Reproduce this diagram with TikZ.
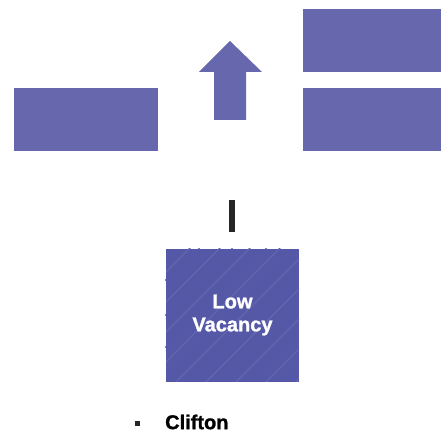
\documentclass[tikz,border=0pt]{standalone}
\usepackage{fontspec}
\setmainfont{Liberation Sans}[BoldFeatures={FakeBold=1.2}]
\usetikzlibrary{patterns}
\definecolor{boxblue}{HTML}{6667AC}
\definecolor{sqblue}{HTML}{5558A6}
\definecolor{stripe}{HTML}{6367AF}
\tikzset{
  blk/.style={fill=boxblue, draw=none, minimum height=63pt, inner sep=0pt},
  lbl/.style={text=white, font=\bfseries\fontsize{20}{25}\selectfont, align=center},
}
\begin{document}
\begin{tikzpicture}[x=1pt,y=1pt]
\useasboundingbox (0,0) rectangle (441,435);
% rectangles
\node[blk, minimum width=144pt, anchor=north west] (left) at (14,347) {};
\node[blk, minimum width=138pt, anchor=north west] (rtop) at (303,426) {};
\node[blk, minimum width=138pt, anchor=north west] (rbot) at (303,347) {};
% arrow
\fill[boxblue] (230,394) -- (262,363) -- (246,363) -- (246,315) -- (214,315) -- (214,363) -- (199,363) -- cycle;
\node[inner sep=0pt, minimum size=0pt] (arrow) at (230,350) {};
% bar
\fill[black!85] (229,235) rectangle (235,203);
\node[inner sep=0pt] (bar) at (232,218) {};
% square
\fill[sqblue] (166,186) rectangle (299,53);
\begin{scope}
\clip (166,186) rectangle (299,53);
\foreach \k in {-140,-110,...,150}
  \draw[stripe, line width=1.2pt] (166+\k,53) -- ++(140,140);
\end{scope}
\foreach \x in {199,232,266} \fill[sqblue] (\x,186) circle (1.1pt);
\foreach \y in {155,120,88} \fill[sqblue] (166,\y) circle (1.1pt);
\node[lbl] (lv) at (232.5,120) {Low\\[-2pt]Vacancy};
% bullet
\fill[black!85] (135,14) rectangle (140,9);
\node[anchor=west, inner sep=0pt, font=\bfseries\fontsize{20}{24}\selectfont] (clifton) at (165,13) {Clifton};
\end{tikzpicture}
\end{document}
